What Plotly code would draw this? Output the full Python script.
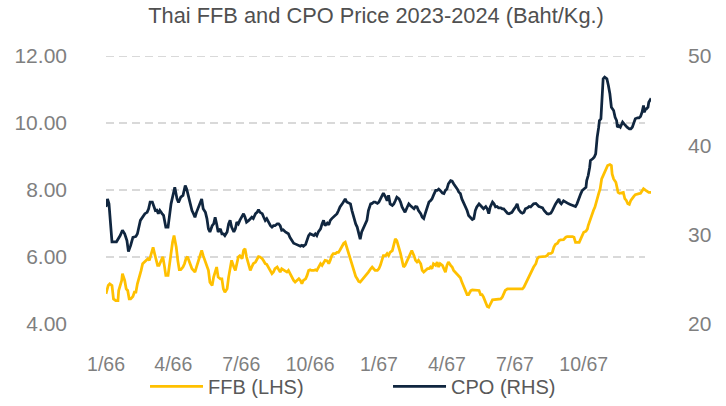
import pandas as pd
import plotly.graph_objects as go

START_DATE = "2023-01-01"
END_DAY = 729

# Tick labels (Thai Buddhist-era month/year)
tick_dates = ["2023-01-01", "2023-04-01", "2023-07-01", "2023-10-01",
              "2024-01-01", "2024-04-01", "2024-07-01", "2024-10-01"]
tick_labels = ["1/66", "4/66", "7/66", "10/66", "1/67", "4/67", "7/67", "10/67"]

left_ticks = [4, 6, 8, 10, 12]
right_ticks = [20, 30, 40, 50]

# CPO price (Baht/Kg, RHS) - day offset from START_DATE and value
cpo_days = [
    0, 2, 4, 8, 14, 19, 22, 25, 28, 30,
    33, 36, 40, 42, 46, 49, 52, 55, 57, 59,
    62, 66, 68, 70, 72, 75, 77, 80, 83, 87,
    90, 92, 95, 97, 100, 103, 106, 108, 110, 112,
    115, 117, 119, 121, 124, 126, 128, 130, 133, 135,
    137, 139, 142, 144, 146, 148, 150, 153, 155, 157,
    159, 162, 164, 166, 168, 171, 173, 175, 177, 179,
    182, 184, 186, 188, 191, 193, 195, 197, 200, 202,
    204, 206, 209, 211, 213, 215, 217, 220, 222, 224,
    226, 229, 231, 233, 235, 237, 240, 242, 244, 246,
    249, 251, 253, 255, 258, 260, 262, 264, 267, 269,
    271, 273, 275, 278, 280, 282, 284, 287, 289, 291,
    293, 296, 298, 300, 302, 304, 307, 309, 311, 313,
    316, 318, 320, 322, 325, 327, 329, 331, 334, 336,
    338, 340, 342, 345, 347, 349, 351, 354, 356, 358,
    360, 363, 365, 367, 369, 371, 374, 376, 378, 380,
    383, 385, 387, 389, 392, 394, 396, 398, 400, 403,
    405, 407, 409, 412, 414, 416, 418, 421, 423, 425,
    427, 430, 432, 434, 436, 438, 441, 443, 445, 447,
    450, 452, 454, 456, 458, 461, 463, 465, 467, 470,
    472, 474, 476, 479, 481, 483, 485, 488, 490, 492,
    494, 496, 499, 501, 503, 505, 508, 510, 512, 514,
    517, 519, 521, 523, 525, 528, 530, 532, 534, 537,
    539, 541, 543, 546, 548, 550, 552, 555, 557, 559,
    561, 564, 566, 568, 570, 572, 575, 577, 579, 581,
    584, 586, 588, 590, 592, 595, 597, 599, 601, 604,
    606, 607, 609, 612, 615, 617, 619, 621, 624, 626,
    628, 630, 633, 635, 637, 639, 642, 643, 645, 647,
    648, 651, 653, 655, 656, 657, 659, 660, 662, 663,
    664, 665, 667, 670, 672, 674, 676, 679, 681, 683,
    684, 686, 688, 691, 693, 695, 697, 700, 702, 704,
    706, 708, 711, 713, 715, 717, 719, 720, 722, 723,
    725, 726, 728, 729,
]
cpo_values = [
    33.1, 34.0, 33.45, 29.2, 29.2, 29.9, 30.5, 30.1, 29.35, 28.1,
    28.8, 29.7, 29.8, 30.1, 31.6, 31.95, 32.35, 32.5, 32.9, 33.65,
    33.65, 32.7, 32.75, 32.35, 32.7, 32.35, 32.15, 30.85, 30.85, 33.45,
    34.4, 35.3, 34.0, 33.6, 34.2, 34.4, 35.5, 35.1, 34.4, 33.65,
    32.7, 32.35, 31.95, 32.5, 33.1, 33.45, 34.0, 32.9, 32.5, 31.8,
    30.65, 30.3, 31.0, 31.2, 31.95, 31.2, 30.3, 30.65, 30.1, 30.1,
    29.9, 30.3, 31.2, 31.6, 30.85, 30.3, 30.65, 31.4, 31.2, 31.6,
    32.15, 32.35, 31.95, 31.4, 31.6, 31.8, 31.95, 31.8, 32.35, 32.5,
    32.8, 32.5, 32.35, 31.95, 31.6, 31.8, 31.4, 31.0, 30.85, 31.0,
    31.0, 31.2, 31.2, 31.0, 30.5, 30.55, 30.3, 30.2, 30.1, 29.7,
    29.35, 29.05, 28.97, 28.9, 28.8, 28.7, 28.8, 28.7, 28.9, 29.35,
    29.9, 30.1, 30.0, 29.9, 30.1, 29.9, 30.3, 30.65, 31.2, 31.6,
    31.0, 31.3, 31.1, 31.6, 31.8, 31.95, 32.15, 32.35, 32.7, 33.1,
    33.45, 33.8, 34.0, 33.65, 33.5, 33.45, 32.7, 31.95, 31.2, 30.85,
    30.3, 29.5, 30.3, 30.85, 31.2, 31.6, 32.7, 33.45, 33.5, 33.65,
    33.65, 33.5, 33.65, 34.0, 34.4, 34.65, 34.2, 33.8, 34.4, 33.45,
    33.27, 33.45, 33.8, 34.2, 34.0, 33.65, 33.1, 32.7, 32.5, 33.1,
    33.45, 33.27, 33.1, 32.9, 33.15, 33.1, 32.7, 32.35, 31.95, 31.8,
    32.35, 33.1, 33.65, 33.8, 34.0, 34.4, 34.95, 34.95, 35.1, 34.95,
    34.65, 34.6, 34.95, 35.1, 35.7, 36.05, 36.0, 35.7, 35.5, 35.1,
    34.75, 34.6, 34.0, 33.45, 33.1, 32.7, 32.15, 31.8, 31.7, 31.8,
    32.7, 33.1, 33.45, 33.27, 33.1, 32.9, 33.15, 32.9, 32.35, 33.1,
    33.65, 33.45, 33.1, 33.15, 33.0, 33.0, 32.9, 32.9, 32.7, 32.4,
    32.35, 32.4, 32.5, 32.9, 33.1, 33.45, 32.8, 32.5, 32.4, 32.5,
    32.9, 33.0, 33.15, 33.1, 33.27, 33.45, 33.5, 33.27, 33.15, 33.1,
    33.0, 32.7, 32.5, 32.35, 32.3, 32.4, 32.7, 33.08, 33.38, 33.8,
    34.0, 33.63, 33.45, 33.8, 33.63, 33.5, 33.45, 33.38, 33.26, 33.2,
    33.15, 33.45, 34.0, 34.57, 34.94, 35.13, 35.31, 36.06, 36.62, 37.55,
    38.3, 38.5, 38.67, 39.05, 40.17, 40.9, 42.03, 42.78, 42.97, 45.02,
    46.5, 47.45, 47.63, 47.45, 46.7, 45.77, 44.27, 43.9, 43.15, 42.78,
    42.03, 42.2, 42.03, 42.6, 42.4, 42.2, 42.03, 41.85, 41.85, 42.03,
    42.6, 42.97, 43.08, 43.08, 43.23, 43.7, 44.46, 43.7, 44.09, 44.09,
    44.27, 44.83, 45.1, 45.02,
]

# FFB price (Baht/Kg, LHS) - day offset from START_DATE and value
ffb_days = [
    0, 3, 5, 8, 10, 13, 16, 17, 21, 22,
    25, 27, 29, 31, 33, 36, 38, 40, 42, 45,
    47, 49, 51, 54, 56, 58, 60, 63, 65, 67,
    69, 71, 74, 76, 78, 80, 83, 85, 87, 89,
    91, 94, 96, 98, 100, 103, 105, 107, 109, 110,
    112, 115, 117, 119, 121, 124, 126, 128, 130, 133,
    135, 137, 139, 142, 144, 146, 148, 150, 153, 155,
    157, 159, 162, 164, 166, 168, 171, 173, 175, 177,
    179, 182, 184, 186, 188, 191, 193, 195, 197, 200,
    202, 204, 206, 209, 211, 213, 215, 217, 220, 222,
    224, 226, 229, 231, 233, 235, 237, 240, 242, 244,
    246, 249, 251, 253, 255, 258, 260, 262, 264, 267,
    269, 271, 273, 275, 278, 280, 282, 284, 287, 289,
    291, 293, 296, 298, 300, 302, 304, 307, 309, 311,
    313, 316, 318, 320, 322, 325, 327, 329, 331, 334,
    336, 338, 340, 342, 345, 347, 349, 351, 354, 356,
    358, 360, 363, 365, 367, 369, 371, 374, 376, 378,
    380, 383, 385, 387, 389, 392, 394, 396, 398, 400,
    403, 405, 407, 409, 412, 414, 416, 418, 421, 423,
    425, 427, 430, 432, 434, 436, 438, 441, 443, 445,
    447, 450, 452, 454, 456, 458, 461, 463, 465, 467,
    470, 472, 474, 476, 479, 481, 483, 485, 488, 490,
    492, 494, 496, 499, 501, 503, 505, 508, 510, 512,
    514, 517, 528, 530, 532, 534, 537, 557, 559, 561,
    564, 566, 568, 570, 572, 575, 577, 579, 586, 588,
    590, 592, 595, 597, 599, 601, 604, 606, 608, 612,
    615, 617, 624, 626, 628, 633, 635, 637, 639, 642,
    644, 645, 647, 650, 652, 654, 656, 659, 661, 663,
    665, 667, 670, 671, 674, 676, 677, 679, 682, 684,
    685, 687, 690, 692, 694, 696, 698, 700, 702, 704,
    706, 708, 711, 713, 715, 717, 719, 722, 724, 726,
    729,
]
ffb_values = [
    4.9, 5.15, 5.2, 5.15, 4.75, 4.7, 4.7, 5.0, 5.3, 5.5,
    5.3, 5.05, 5.0, 4.75, 4.75, 4.82, 4.95, 4.95, 5.2, 5.4,
    5.6, 5.8, 5.85, 5.92, 5.95, 5.9, 6.04, 6.29, 6.1, 5.9,
    5.75, 5.75, 5.9, 6.01, 5.75, 5.45, 5.45, 5.8, 6.14, 6.44,
    6.64, 6.29, 5.9, 5.62, 5.62, 5.7, 5.8, 5.95, 6.01, 5.95,
    5.8, 5.65, 5.6, 5.55, 5.7, 5.9, 6.04, 6.2, 6.04, 5.85,
    5.75, 5.6, 5.25, 5.15, 5.4, 5.6, 5.7, 5.4, 5.35, 5.35,
    5.05, 4.95, 5.05, 5.4, 5.7, 5.9, 5.7, 5.6, 5.8, 6.0,
    6.04, 5.95, 6.2, 6.25, 6.0, 5.7, 5.6, 5.7, 5.8, 5.85,
    5.95, 6.01, 6.0, 5.95, 5.88, 5.8, 5.78, 5.7, 5.55, 5.5,
    5.55, 5.65, 5.7, 5.6, 5.55, 5.65, 5.62, 5.6, 5.55, 5.6,
    5.5, 5.4, 5.3, 5.25, 5.3, 5.35, 5.3, 5.2, 5.3, 5.35,
    5.45, 5.6, 5.62, 5.6, 5.6, 5.62, 5.6, 5.7, 5.8, 5.75,
    5.85, 5.9, 5.88, 5.8, 5.9, 6.04, 6.1, 6.1, 6.14, 6.14,
    6.21, 6.34, 6.41, 6.44, 6.29, 6.1, 5.95, 5.8, 5.6, 5.42,
    5.35, 5.27, 5.25, 5.3, 5.38, 5.42, 5.5, 5.55, 5.65, 5.7,
    5.65, 5.6, 5.6, 5.65, 5.75, 5.9, 6.04, 6.04, 6.1, 6.04,
    6.14, 6.19, 6.41, 6.54, 6.49, 6.29, 6.1, 5.9, 5.7, 5.75,
    5.9, 6.04, 6.14, 6.19, 6.04, 5.9, 5.85, 5.9, 5.8, 5.6,
    5.55, 5.6, 5.65, 5.65, 5.7, 5.65, 5.8, 5.75, 5.85, 5.7,
    5.8, 5.75, 5.65, 5.55, 5.75, 5.85, 5.75, 5.7, 5.6, 5.55,
    5.5, 5.42, 5.38, 5.25, 5.1, 4.95, 4.88, 4.88, 5.0, 5.02,
    5.02, 5.0, 5.02, 5.0, 4.88, 4.88, 4.8, 4.65, 4.52, 4.5,
    4.6, 4.72, 4.75, 4.8, 4.9, 5.0, 5.05, 5.05, 5.1, 5.2,
    5.3, 5.4, 5.5, 5.6, 5.7, 5.8, 5.95, 6.0, 6.01, 6.02,
    6.04, 6.1, 6.11, 6.14, 6.29, 6.37, 6.41, 6.49, 6.51, 6.52,
    6.59, 6.61, 6.61, 6.59, 6.44, 6.44, 6.54, 6.64, 6.74, 6.77,
    6.84, 6.94, 7.09, 7.24, 7.39, 7.49, 7.69, 7.89, 8.04, 8.33,
    8.43, 8.53, 8.63, 8.73, 8.76, 8.73, 8.48, 8.33, 8.23, 8.08,
    7.93, 7.9, 7.93, 7.93, 7.74, 7.69, 7.59, 7.57, 7.69, 7.77,
    7.81, 7.86, 7.89, 7.89, 7.9, 7.99, 8.04, 7.99, 7.96, 7.93,
    7.93,
]

FONT = "Liberation Sans, Arial, sans-serif"
FFB_COLOR = "#FFC000"
CPO_COLOR = "#10263F"
GRID_COLOR = "#D9D9D9"

base = pd.Timestamp(START_DATE)
ffb_x = base + pd.to_timedelta(ffb_days, unit="D")
cpo_x = base + pd.to_timedelta(cpo_days, unit="D")

fig = go.Figure()
fig.add_trace(go.Scatter(x=ffb_x, y=ffb_values, name="FFB (LHS)", mode="lines",
                         line=dict(color=FFB_COLOR, width=2.75), yaxis="y"))
fig.add_trace(go.Scatter(x=cpo_x, y=cpo_values, name="CPO (RHS)", mode="lines",
                         line=dict(color=CPO_COLOR, width=2.75), yaxis="y2"))

for v in left_ticks[1:]:
    fig.add_shape(type="line", xref="paper", yref="y", x0=0, x1=0.989, y0=v, y1=v,
                  line=dict(color=GRID_COLOR, width=2, dash="8px,5px"), layer="below")

fig.update_layout(
    width=726, height=406,
    margin=dict(l=106, r=75, t=56, b=82, autoexpand=False),
    paper_bgcolor="white", plot_bgcolor="white",
    font=dict(family=FONT, color="#595959"),
    title=dict(text="Thai FFB and CPO Price 2023-2024 (Baht/Kg.)",
               x=0.518, xanchor="center", xref="container",
               y=0.963, yanchor="middle", yref="container",
               font=dict(size=21.8, color="#505050", family=FONT)),
    xaxis=dict(type="date",
               range=[base, base + pd.Timedelta(days=END_DAY)],
               tickvals=tick_dates, ticktext=tick_labels,
               showgrid=False, zeroline=False, showline=False, ticks="",
               automargin=False,
               tickfont=dict(size=19.5, color="#7F7F7F"), ticklabelstandoff=26),
    yaxis=dict(range=[left_ticks[0], left_ticks[-1]], tickvals=left_ticks,
               tickformat=".2f", showgrid=False, zeroline=False, showline=False,
               ticks="", automargin=False, tickfont=dict(size=21, color="#7F7F7F"),
               ticklabelstandoff=38),
    yaxis2=dict(range=[right_ticks[0], right_ticks[-1]], tickvals=right_ticks,
                overlaying="y", side="right", showgrid=False, zeroline=False,
                showline=False, ticks="", automargin=False,
                tickfont=dict(size=21, color="#7F7F7F"), ticklabelstandoff=36),
    showlegend=True,
    legend=dict(orientation="h", x=0.0716, xanchor="left", y=-0.233, yanchor="middle",
                font=dict(size=20, color="#595959"), itemwidth=53, entrywidth=175,
                entrywidthmode="pixels", bgcolor="rgba(0,0,0,0)"),
)

fig.write_html("out.html", config={"displayModeBar": False},
               post_script="document.body.style.margin='0px';")
